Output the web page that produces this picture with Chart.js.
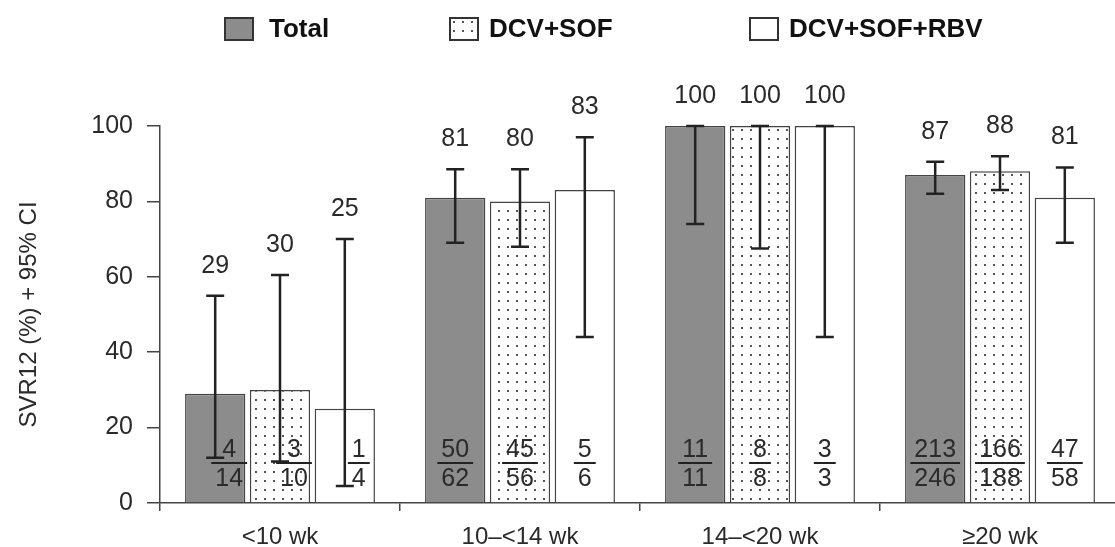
<!DOCTYPE html>
<html>
<head>
<meta charset="utf-8">
<script src="https://cdn.jsdelivr.net/npm/chart.js@4.4.1/dist/chart.umd.min.js"></script>
<style>
  html, body { margin: 0; padding: 0; background: #fff; overflow: hidden; }
</style>
</head>
<body>
<canvas id="chart" width="1130" height="547"></canvas>
<script>
"use strict";

// Values
const categories = ["<10 wk", "10\u2013<14 wk", "14\u2013<20 wk", "\u226520 wk"];
const seriesNames = ["Total", "DCV+SOF", "DCV+SOF+RBV"];

const totalSvr = [29, 81, 100, 87];
const totalLow = [12, 69, 74, 82];
const totalHigh = [55, 88.5, 100, 90.5];
const totalResp = [4, 50, 11, 213];
const totalN = [14, 62, 11, 246];

const dcvSofSvr = [30, 80, 100, 88];
const dcvSofLow = [11, 68, 67.5, 83];
const dcvSofHigh = [60.5, 88.5, 100, 92];
const dcvSofResp = [3, 45, 8, 166];
const dcvSofN = [10, 56, 8, 188];

const rbvSvr = [25, 83, 100, 81];
const rbvLow = [4.5, 44, 44, 69];
const rbvHigh = [70, 97, 100, 89];
const rbvResp = [1, 5, 3, 47];
const rbvN = [4, 6, 3, 58];

const yTicks = [0, 20, 40, 60, 80, 100];

const FONT = '"Liberation Sans", Arial, Helvetica, sans-serif';
const INK = "#2a2a2a";

// little dotted fill used for the DCV+SOF bars
function dotPattern() {
  const c = document.createElement("canvas");
  c.width = 9;
  c.height = 9;
  const g = c.getContext("2d");
  g.fillStyle = "#fff";
  g.fillRect(0, 0, 9, 9);
  g.fillStyle = "#555";
  g.fillRect(3, 3, 2, 2);
  return g.createPattern(c, "repeat");
}

const ctx = document.querySelector("#chart").getContext("2d");
const dots = dotPattern();

const makeSet = (label, data, low, high, resp, n, fill) => ({
  label: label,
  data: data,
  ciLow: low,
  ciHigh: high,
  resp: resp,
  n: n,
  backgroundColor: fill,
  borderColor: "#444",
  borderWidth: 1.5,
  categoryPercentage: 0.81,
  barPercentage: 0.93,
});

const datasets = [
  makeSet(seriesNames[0], totalSvr, totalLow, totalHigh, totalResp, totalN, "#8c8c8c"),
  makeSet(seriesNames[1], dcvSofSvr, dcvSofLow, dcvSofHigh, dcvSofResp, dcvSofN, dots),
  makeSet(seriesNames[2], rbvSvr, rbvLow, rbvHigh, rbvResp, rbvN, "#fff"),
];

// error bars, value labels on top, n/N fractions near the base
const annotate = {
  id: "annotate",
  afterDatasetsDraw(chart) {
    const c = chart.ctx;
    const y = chart.scales.y;
    const base = y.getPixelForValue(0);
    chart.data.datasets.forEach((ds, i) => {
      chart.getDatasetMeta(i).data.forEach((bar, j) => {
        const lo = y.getPixelForValue(ds.ciLow[j]);
        const hi = y.getPixelForValue(ds.ciHigh[j]);
        c.save();
        c.strokeStyle = "#222";
        c.lineWidth = 2.5;
        c.beginPath();
        c.moveTo(bar.x, lo);
        c.lineTo(bar.x, hi);
        c.moveTo(bar.x - 9, lo);
        c.lineTo(bar.x + 9, lo);
        c.moveTo(bar.x - 9, hi);
        c.lineTo(bar.x + 9, hi);
        c.stroke();

        c.fillStyle = INK;
        c.textAlign = "center";
        c.textBaseline = "middle";
        c.font = "25px " + FONT;
        c.fillText(String(ds.data[j]), bar.x, hi - 30);

        // fraction; nudged right where the CI whisker runs through it
        const fx = bar.x + (ds.ciLow[j] < 20 ? 14 : 0);
        const top = String(ds.resp[j]);
        const bot = String(ds.n[j]);
        c.fillText(top, fx, base - 53);
        c.fillText(bot, fx, base - 24);
        const w = Math.max(c.measureText(top).width, c.measureText(bot).width) + 8;
        c.lineWidth = 2;
        c.beginPath();
        c.moveTo(fx - w / 2, base - 40);
        c.lineTo(fx + w / 2, base - 40);
        c.stroke();
        c.restore();
      });
    });
  },
  afterDraw(chart) {
    // legend across the top
    const c = chart.ctx;
    const boxX = [225, 450, 750];
    const textX = [269, 489, 789];
    c.save();
    c.font = "bold 26px " + FONT;
    c.textBaseline = "middle";
    c.textAlign = "left";
    chart.data.datasets.forEach((ds, i) => {
      c.fillStyle = ds.backgroundColor;
      c.fillRect(boxX[i], 18, 28, 22);
      c.strokeStyle = "#333";
      c.lineWidth = 2;
      c.strokeRect(boxX[i], 18, 28, 22);
      c.fillStyle = "#111";
      c.fillText(ds.label, textX[i], 30);
    });
    c.restore();
  },
};

const config = {
  type: "bar",
  data: { labels: categories, datasets: datasets },
  options: {
    responsive: false,
    animation: false,
    layout: { padding: { top: 126, right: 10, bottom: 0, left: 0 } },
    plugins: { legend: { display: false }, tooltip: { enabled: false } },
    scales: {
      x: {
        grid: { offset: true, drawOnChartArea: false, tickLength: 8, color: "#444", lineWidth: 1.5 },
        border: { color: "#444", width: 1.5 },
        ticks: { color: INK, font: { family: FONT, size: 24 }, padding: 12 },
        afterFit: (s) => { s.height = 44; },
      },
      y: {
        min: 0,
        max: 100,
        afterBuildTicks: (s) => { s.ticks = yTicks.map((v) => ({ value: v })); },
        grid: { drawOnChartArea: false, tickLength: 13, color: "#444", lineWidth: 1.5 },
        border: { color: "#444", width: 1.5 },
        ticks: { color: INK, font: { family: FONT, size: 25 }, padding: 14 },
        title: {
          display: true,
          text: "SVR12 (%) + 95% CI",
          color: INK,
          font: { family: FONT, size: 24 },
          padding: { top: 15, bottom: 0 },
        },
        afterFit: (s) => { s.width = 160; },
      },
    },
  },
  plugins: [annotate],
};

new Chart(ctx, config);
</script>
</body>
</html>
